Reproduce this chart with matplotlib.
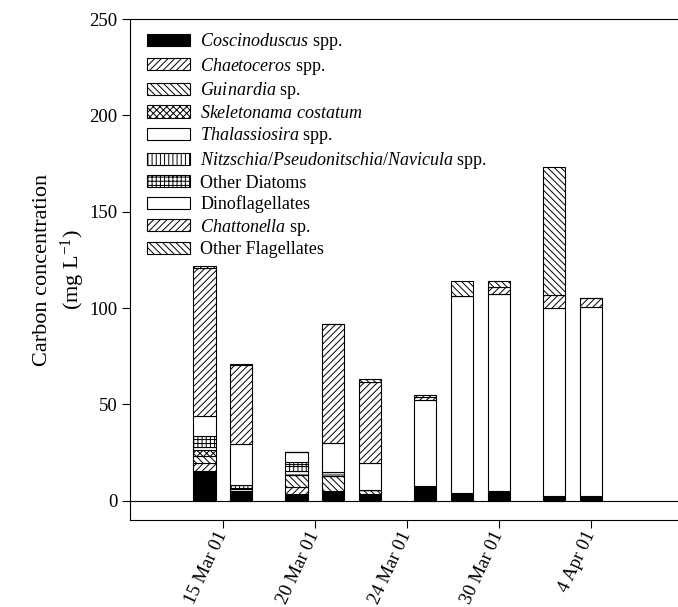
import numpy as np
import matplotlib
matplotlib.use('Agg')
import matplotlib.pyplot as plt

plt.rcParams['font.family'] = ['Liberation Serif', 'DejaVu Serif']
plt.rcParams['mathtext.fontset'] = 'custom'
plt.rcParams['mathtext.rm'] = 'Liberation Serif'
plt.rcParams['mathtext.it'] = 'Liberation Serif:italic'
plt.rcParams['hatch.linewidth'] = 0.7

# sample positions (index units) and tick labels
positions = [4, 6, 9, 11, 13, 16, 18, 20, 23, 25]
tick_pos = [5, 10, 15, 20, 25]
tick_labels = ['15 Mar 01', '20 Mar 01', '24 Mar 01', '30 Mar 01', '4 Apr 01']

# carbon concentration (mg L-1), one value per bar
coscinodiscus = [15.5, 5.0, 3.5, 5.2, 3.5, 6.5, 3.9, 5.2, 2.3, 2.3]
chaetoceros = [4.0, 0.0, 3.4, 0.0, 0.0, 0.0, 0.0, 0.0, 0.0, 0.0]
guinardia = [3.5, 0.0, 6.5, 7.8, 2.0, 0.0, 0.0, 0.0, 0.0, 0.0]
skeletonema = [3.5, 0.0, 0.0, 0.0, 0.0, 0.0, 0.0, 0.0, 0.0, 0.0]
thalassiosira = [1.5, 1.0, 2.2, 1.8, 0.0, 0.5, 0.0, 0.0, 0.0, 0.0]
nitzschia = [2.0, 0.5, 2.5, 0.0, 0.0, 0.0, 0.0, 0.0, 0.0, 0.0]
other_diatoms = [3.5, 1.5, 2.1, 0.0, 0.0, 0.8, 0.0, 0.0, 0.0, 0.0]
dinoflagellates = [10.5, 21.5, 5.0, 15.0, 13.9, 44.3, 102.5, 101.9, 97.5, 98.1]
chattonella = [77.0, 41.0, 0.0, 62.0, 42.2, 1.5, 0.0, 3.6, 7.0, 4.6]
other_flagellates = [1.0, 0.7, 0.0, 0.0, 1.8, 1.1, 7.6, 3.4, 66.5, 0.0]

series = [coscinodiscus, chaetoceros, guinardia, skeletonema, thalassiosira,
          nitzschia, other_diatoms, dinoflagellates, chattonella, other_flagellates]
labels = [r'$\mathit{Coscinoduscus}$ spp.',
          r'$\mathit{Chaetoceros}$ spp.',
          r'$\mathit{Guinardia}$ sp.',
          r'$\mathit{Skeletonama\ costatum}$',
          r'$\mathit{Thalassiosira}$ spp.',
          r'$\mathit{Nitzschia/Pseudonitschia/Navicula}$ spp.',
          'Other Diatoms',
          'Dinoflagellates',
          r'$\mathit{Chattonella}$ sp.',
          'Other Flagellates']
colors = ['black'] + ['white'] * 9
hatches = [None, '/////', '\\\\\\\\\\', 'xxxxx', '-', '||||', '++++', None,
           '/////', '\\\\\\\\\\']

fig = plt.figure(figsize=(6.78, 6.07), dpi=100)
ax = fig.add_axes([130 / 678, 1 - 520 / 607, 550 / 678, 501 / 607])

bottom = np.zeros(len(positions))
for vals, lab, col, hat in zip(series, labels, colors, hatches):
    ax.bar(positions, vals, width=1.2, bottom=bottom, color=col,
           edgecolor='black', linewidth=0.8, hatch=hat, label=lab)
    bottom += np.array(vals)

ax.axhline(0, color='black', linewidth=0.8, zorder=0)
ax.set_ylim(-10, 250)
ax.set_xlim(-0.05, 29.85)
ax.set_yticks([0, 50, 100, 150, 200, 250])
ax.set_xticks(tick_pos)
ax.set_xticklabels(tick_labels, rotation=65, ha='right', va='center',
                   rotation_mode='anchor')
ax.tick_params(direction='out', length=5.5, width=0.8, labelsize=13.5)
ax.tick_params(axis='x', pad=3)
ax.spines['right'].set_visible(False)
for s in ['left', 'bottom', 'top']:
    ax.spines[s].set_linewidth(0.8)

ax.set_ylabel('Carbon concentration\n(mg L$^{\\mathrm{-1}}$)', fontsize=16,
              linespacing=1.3, labelpad=2)

ax.legend(loc='upper left', bbox_to_anchor=(0.031, 0.976), frameon=False,
          fontsize=13, handlelength=2.4, handleheight=0.65, labelspacing=0.2,
          handletextpad=0.55, borderpad=0, borderaxespad=0)

plt.savefig('out.png', dpi=100)
